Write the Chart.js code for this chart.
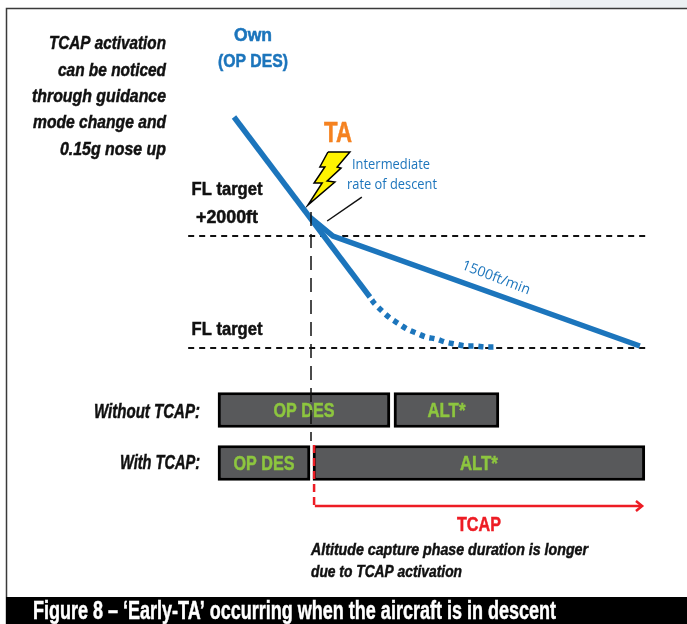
<!DOCTYPE html>
<html>
<head>
<meta charset="utf-8">
<style>
html, body { margin: 0; padding: 0; background: #fff; }
canvas { display: block; }
</style>
<script src="https://cdn.jsdelivr.net/npm/chart.js@4/dist/chart.umd.min.js"></script>
</head>
<body>
<canvas id="chart" width="687" height="624"></canvas>
<script>
// x = seconds after the TA, y = feet above the target flight level
const ownPathX = [-20.0, 15.3];
const ownPathY = [4125, 911];
const capturePathX = [15.8, 16.6, 18.7, 20.5, 22.9, 24.9, 27.3, 29.9, 32.5, 34.8, 37.4, 40.0, 42.6, 45.2, 48.3];
const capturePathY = [857, 786, 643, 536, 429, 339, 268, 196, 161, 107, 71, 36, 36, 18, 18];
const tcapPathX = [-0.3, 5.7, 85.4];
const tcapPathY = [2339, 2000, 36];
const levelLineX = [-31.9, 87.7];
const levelValues = [2000, 0];
const taTimeX = [0, 0];
const taTimeY = [2429, -1661];
const tcapStartX = [0.8, 0.8];
const tcapStartY = [-1732, -2804];
const tcapSpanX = [1.0, 85.8];
const tcapSpanY = [-2821, -2821];
const arrowHeadX = [84.4, 86.0, 84.4];
const arrowHeadY = [-2732, -2821, -2911];
const leaderX = [13.2, 4.2];
const leaderY = [2696, 2268];
const boltX = [4.4, 10.1, 6.8, 7.8, 4.2, 6.2, -0.8, 2.9, 0.8, 3.6, 2.3, 4.4];
const boltY = [3500, 3500, 3232, 3214, 2982, 2964, 2554, 2946, 2946, 3232, 3232, 3500];

// FMA phases, one row per case
const phaseNames = ['OP DES', 'ALT*', 'OP DES', 'ALT*'];
const phaseRows = [0, 0, 1, 1];
const phaseStart = [-24.15, 21.55, -24.15, 0.52];
const phaseEnd = [20.5, 48.8, -0.26, 86.7];

const noteLines = ['TCAP activation', 'can be noticed', 'through guidance', 'mode change and', '0.15g nose up'];
const captionText = 'Figure 8 – ‘Early-TA’ occurring when the aircraft is in descent';

const BLUE = '#1c75bc';
const RED = '#ed1c24';
const SANS = '"Liberation Sans"';
const REGULAR = '"Open Sans"';
const NOTE = 'italic bold 19px ' + SANS;
const HEAD = 'bold 18px ' + SANS;

const pts = (xs, ys) => xs.map((x, i) => ({ x: x, y: ys[i] }));

function lineSet(data, color, width, dash, order, extra) {
    return Object.assign({
        type: 'line',
        data: data,
        borderColor: color,
        borderWidth: width,
        borderDash: dash || [],
        pointRadius: 0,
        borderCapStyle: 'butt',
        borderJoinStyle: 'miter',
        fill: false,
        tension: 0,
        order: order
    }, extra || {});
}

// Text in the original is a condensed face, so each label is squeezed to the width it has there
function fitText(c, text, x, y, width, align) {
    const k = width / c.measureText(text).width;
    c.save();
    c.translate(x, y);
    c.scale(k, 1);
    c.textAlign = align;
    c.fillText(text, 0, 0);
    if (c.font.includes('bold')) {
        c.strokeStyle = c.fillStyle;
        c.lineWidth = 0.5;
        c.strokeText(text, 0, 0);
    }
    c.restore();
}

// pixel placed annotation texts: [text, x, y, width, font, color, align, rotation]
const labels = [
    [noteLines[0], 166, 44, 117, NOTE, '#111', 'right'],
    [noteLines[1], 166, 71, 108, NOTE, '#111', 'right'],
    [noteLines[2], 166, 97, 134, NOTE, '#111', 'right'],
    [noteLines[3], 166, 123, 133, NOTE, '#111', 'right'],
    [noteLines[4], 166, 150, 106, NOTE, '#111', 'right'],
    ['Own', 253, 36, 38, HEAD, BLUE, 'center'],
    ['(OP DES)', 253, 62, 70, HEAD, BLUE, 'center'],
    ['TA', 338, 134, 28, 'bold 29px ' + SANS, '#f58220', 'center'],
    ['Intermediate', 391, 165, 78, '14px ' + REGULAR, BLUE, 'center'],
    ['rate of descent', 392, 185, 90, '14px ' + REGULAR, BLUE, 'center'],
    ['FL target', 227, 190, 71, HEAD, '#111', 'center'],
    ['+2000ft', 227, 218, 62, HEAD, '#111', 'center'],
    ['FL target', 227, 330, 71, HEAD, '#111', 'center'],
    ['1500ft/min', 496, 278, 72, '14px ' + REGULAR, BLUE, 'center', 21],
    ['Without TCAP:', 200, 412, 106, 'italic bold 20px ' + SANS, '#111', 'right'],
    ['With TCAP:', 200, 463, 80, 'italic bold 20px ' + SANS, '#111', 'right'],
    ['TCAP', 479, 525, 44, 'bold 21px ' + SANS, RED, 'center'],
    ['Altitude capture phase duration is longer', 311, 550, 277, 'italic bold 17px ' + SANS, '#111', 'left'],
    ['due to TCAP activation', 311, 572, 151, 'italic bold 17px ' + SANS, '#111', 'left']
];

const framePlugin = {
    id: 'frame',
    beforeDraw(chart) {
        const c = chart.ctx;
        c.save();
        c.fillStyle = '#ecf0f3';
        c.fillRect(550, 0, 137, 8);
        c.strokeStyle = '#3a3a3a';
        c.lineWidth = 1.5;
        c.beginPath();
        c.moveTo(6.5, 624);
        c.lineTo(6.5, 8.5);
        c.lineTo(687, 8.5);
        c.stroke();
        c.fillStyle = '#000';
        c.fillRect(6, 597, 681, 27);
        c.restore();
    },
    // phase names go right on top of the bars, under the dashed TA line
    afterDatasetDraw(chart, args) {
        if (chart.data.datasets[args.index].label !== 'phases') return;
        const c = chart.ctx;
        const sx = chart.scales.x;
        const sr = chart.scales.rows;
        c.save();
        c.font = 'bold 21px ' + SANS;
        c.fillStyle = '#8dc63f';
        c.textBaseline = 'middle';
        phaseNames.forEach((name, i) => {
            const mid = (phaseStart[i] + phaseEnd[i]) / 2;
            fitText(c, name, sx.getPixelForValue(mid), sr.getPixelForValue(phaseRows[i]) + 1, name === 'ALT*' ? 38 : 61, 'center');
        });
        c.restore();
    },
    afterDraw(chart) {
        const c = chart.ctx;
        c.save();
        c.textBaseline = 'middle';
        labels.forEach(l => {
            c.save();
            c.translate(l[1], l[2]);
            if (l[7]) c.rotate(l[7] * Math.PI / 180);
            c.font = l[4];
            c.fillStyle = l[5];
            fitText(c, l[0], 0, 0, l[3], l[6]);
            c.restore();
        });
        c.font = 'bold 25px ' + SANS;
        c.fillStyle = '#fff';
        fitText(c, captionText, 33, 612, 523, 'left');
        c.restore();
    }
};

new Chart(document.getElementById('chart').getContext('2d'), {
    data: {
        datasets: [
            lineSet(pts(taTimeX, taTimeY), '#111', 1.5, [14, 8], 1),
            lineSet(pts(tcapStartX, tcapStartY), RED, 2.5, [8, 5], 1),
            lineSet(pts(tcapSpanX, tcapSpanY), RED, 2.5, null, 1),
            lineSet(pts(arrowHeadX, arrowHeadY), RED, 2.5, null, 1),
            {
                label: 'phases',
                type: 'bar',
                indexAxis: 'y',
                xAxisID: 'x',
                yAxisID: 'rows',
                data: phaseRows.map((r, i) => ({ y: r, x: [phaseStart[i], phaseEnd[i]] })),
                backgroundColor: '#58595b',
                borderColor: '#000',
                borderWidth: 3,
                borderSkipped: false,
                barThickness: 35,
                order: 2
            },
            lineSet(pts(ownPathX, ownPathY), BLUE, 5.5, null, 3),
            lineSet(pts(tcapPathX, tcapPathY), BLUE, 5.5, null, 3),
            lineSet(pts(capturePathX, capturePathY), BLUE, 5.5, [5, 5], 3, { tension: 0.3 }),
            lineSet(pts(leaderX, leaderY), '#111', 1.5, null, 3),
            lineSet(pts(boltX, boltY), '#000', 1.5, null, 3, { fill: 'shape', backgroundColor: '#fff200' }),
            lineSet(pts(levelLineX, [levelValues[0], levelValues[0]]), '#111', 2, [6, 5], 4),
            lineSet(pts(levelLineX, [levelValues[1], levelValues[1]]), '#111', 2, [6, 5], 4)
        ]
    },
    options: {
        responsive: false,
        animation: false,
        layout: { padding: 0 },
        plugins: { legend: { display: false }, tooltip: { enabled: false }, title: { display: false } },
        scales: {
            x: { type: 'linear', display: false, bounds: 'data', min: -80.77, max: 97.65 },
            y: { type: 'linear', display: false, bounds: 'data', min: -4928.6, max: 6214.3 },
            rows: { type: 'linear', display: false, bounds: 'data', offset: false, reverse: true, min: -7.736, max: 4.038 }
        }
    },
    plugins: [framePlugin]
});
</script>
</body>
</html>
